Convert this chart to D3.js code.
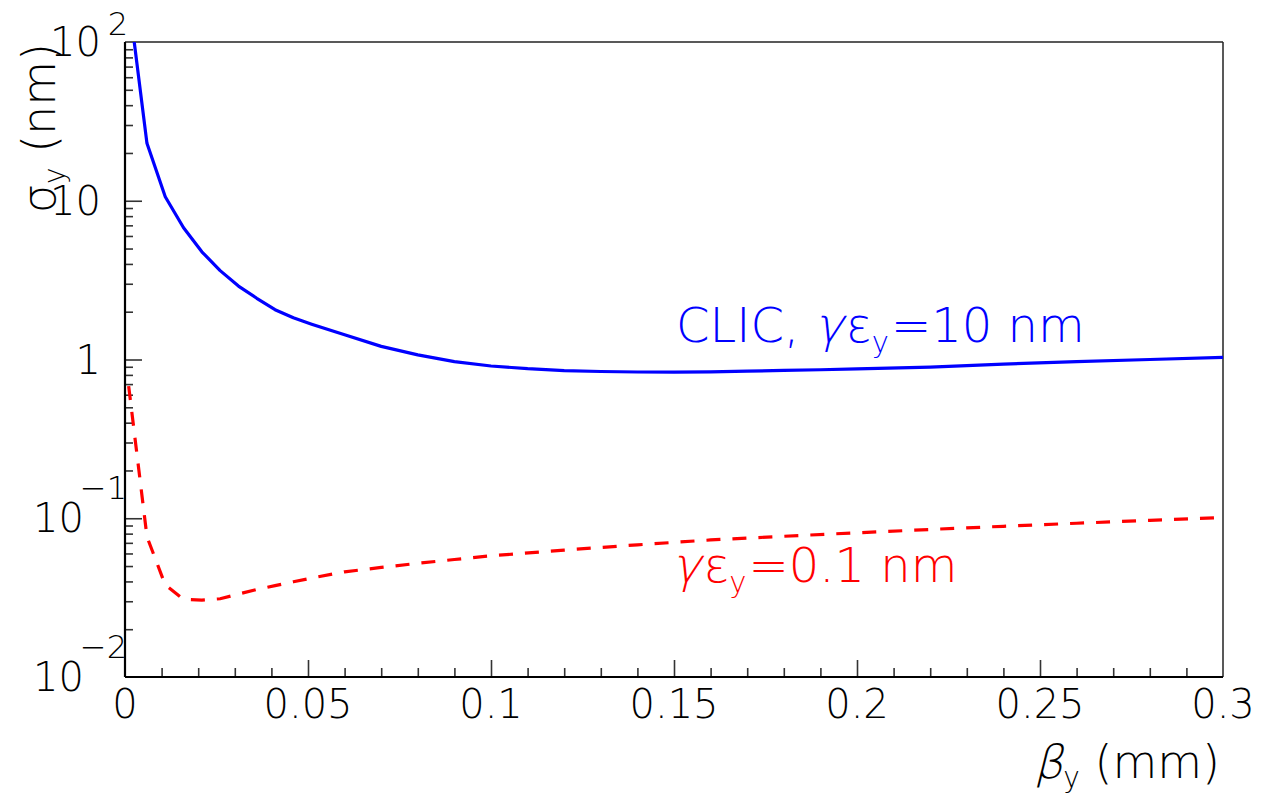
<!DOCTYPE html>
<html><head><meta charset="utf-8">
<script src="https://cdn.jsdelivr.net/npm/d3@7"></script>
<style>
body{margin:0;background:#fff}
svg{display:block}
text{font-family:"DejaVu Sans","Liberation Sans",sans-serif;font-weight:200}
</style>
</head><body>
<svg id="chart" width="1262" height="793"></svg>
<script>
// ---- data ----
const betaBlue  = [0.001,0.006,0.011,0.016,0.021,0.026,0.031,0.036,0.041,0.046,0.051,0.06,0.07,0.08,0.09,0.10,0.11,0.12,0.13,0.14,0.15,0.16,0.17,0.18,0.19,0.20,0.22,0.24,0.26,0.28,0.30];
const sigmaBlue = [190,23,10.6,6.76,4.77,3.63,2.90,2.43,2.06,1.83,1.67,1.43,1.21,1.07,0.97,0.91,0.875,0.852,0.840,0.834,0.833,0.836,0.845,0.853,0.862,0.873,0.895,0.935,0.97,1.00,1.03];
const betaRed   = [0.001,0.006,0.011,0.016,0.021,0.026,0.031,0.036,0.041,0.046,0.051,0.06,0.07,0.08,0.09,0.10,0.12,0.14,0.16,0.18,0.20,0.22,0.24,0.26,0.28,0.30];
const sigmaRed  = [0.68,0.0765,0.038,0.0308,0.0305,0.0311,0.0333,0.0356,0.0376,0.0398,0.042,0.046,0.049,0.052,0.055,0.058,0.063,0.068,0.073,0.077,0.081,0.085,0.089,0.093,0.097,0.101];

const xTicks      = [0,0.05,0.1,0.15,0.2,0.25,0.3];
const xTickLabels = ["0","0.05","0.1","0.15","0.2","0.25","0.3"];
const yTicks      = [0.01,0.1,1,10,100];
const yTickBase   = ["10","10","1","10","10"];
const yTickExp    = ["\u22122","\u22121","","","2"];

const blueLabel = ["CLIC, ","\u03b3","\u03b5","y","=10 nm"];
const redLabel  = ["","\u03b3","\u03b5","y","=0.1 nm"];

// ---- layout ----
const L=125, R=1223, T=42, B=677;
const svg=d3.select("#chart");
const x=d3.scaleLinear().domain([0,0.3]).range([L,R]);
const y=d3.scaleLog().domain([0.01,100]).range([B,T]);

svg.append("defs").append("clipPath").attr("id","clip")
  .append("rect").attr("x",L).attr("y",T).attr("width",R-L).attr("height",B-T);

const xMinor=d3.range(0,0.3001,0.01).filter(v=>Math.abs(v/0.05-Math.round(v/0.05))>1e-6);
const yMinor=[];
[0.01,0.1,1,10].forEach(d=>{for(let k=2;k<=9;k++) yMinor.push(d*k);});

function styleAxis(g){
  g.select(".domain").remove();
  g.selectAll(".tick line").attr("stroke","#333").attr("stroke-width",1.6);
  g.selectAll(".tick text").remove();
}
svg.append("g").attr("transform",`translate(0,${B})`)
  .call(d3.axisBottom(x).tickValues(xMinor).tickSize(-9).tickFormat("")).call(styleAxis);
svg.append("g").attr("transform",`translate(0,${B})`)
  .call(d3.axisBottom(x).tickValues(xTicks.slice(1,-1)).tickSize(-17).tickFormat("")).call(styleAxis);
svg.append("g").attr("transform",`translate(${L},0)`)
  .call(d3.axisLeft(y).tickValues(yMinor).tickSize(-8).tickFormat("")).call(styleAxis);
svg.append("g").attr("transform",`translate(${L},0)`)
  .call(d3.axisLeft(y).tickValues(yTicks.slice(1,-1)).tickSize(-17).tickFormat("")).call(styleAxis);

// frame
svg.append("line").attr("x1",L).attr("x2",R).attr("y1",T).attr("y2",T).attr("stroke","#222").attr("stroke-width",1.5);
svg.append("line").attr("x1",R).attr("x2",R).attr("y1",T).attr("y2",B).attr("stroke","#222").attr("stroke-width",1.5);
svg.append("line").attr("x1",L).attr("x2",R).attr("y1",B).attr("y2",B).attr("stroke","#000").attr("stroke-width",2.2);
svg.append("line").attr("x1",L).attr("x2",L).attr("y1",T).attr("y2",B).attr("stroke","#000").attr("stroke-width",2.2);

// x tick labels
svg.append("g").selectAll("text").data(xTicks).join("text")
  .attr("x",d=>x(d)).attr("y",B+41).attr("text-anchor","middle")
  .attr("font-size",40).attr("fill","#000").text((d,i)=>xTickLabels[i]);

// y tick labels
yTicks.forEach((v,i)=>{
  const ty=y(v), exp=yTickExp[i];
  if(!exp){
    svg.append("text").attr("x",101).attr("y",ty+14).attr("text-anchor","end")
      .attr("font-size",40).attr("fill","#000").text(yTickBase[i]);
  } else {
    const neg=exp.startsWith("\u2212");
    svg.append("text").attr("x",neg?84:101).attr("y",ty+14).attr("text-anchor","end")
      .attr("font-size",40).attr("fill","#000").text(yTickBase[i]);
    svg.append("text").attr("x",neg?127:128).attr("y",neg?ty-19:ty-7).attr("text-anchor","end")
      .attr("font-size",32).attr("fill","#000").text(exp);
  }
});

// slanted glyph overlay: hide the tspan glyph and draw a skewed copy at its position
function slant(textSel, charIndex, glyph, extraTransform){
  const node=textSel.node();
  const p=node.getStartPositionOfChar(charIndex);
  const g=d3.select(node.parentNode).append("text")
    .attr("transform",(extraTransform||"")+` translate(${p.x},${p.y}) skewX(-14)`)
    .attr("font-size",textSel.attr("font-size")).attr("fill",textSel.attr("fill")).text(glyph);
  return g;
}

// axis titles
const xt=svg.append("text").attr("x",1220).attr("y",778).attr("text-anchor","end")
  .attr("font-size",46).attr("fill","#000");
xt.append("tspan").attr("fill-opacity",0).text("\u03b2");
xt.append("tspan").attr("font-size",28).attr("dy",9).text("y");
xt.append("tspan").attr("dy",-9).text(" (mm)");
slant(xt,0,"\u03b2");

const yt=svg.append("text").attr("transform","translate(55,43) rotate(-90)")
  .attr("text-anchor","end").attr("font-size",46).attr("fill","#000");
yt.append("tspan").text("\u03c3");
yt.append("tspan").attr("font-size",28).attr("dy",9).text("y");
yt.append("tspan").attr("dy",-9).text(" (nm)");

// curves
const line=d3.line().x(d=>x(d[0])).y(d=>y(d[1]));
const gPlot=svg.append("g").attr("clip-path","url(#clip)");
gPlot.append("path").datum(betaBlue.map((b,i)=>[b,sigmaBlue[i]]))
  .attr("d",line).attr("fill","none").attr("stroke","#0000ff").attr("stroke-width",3.2).attr("stroke-linejoin","round");
gPlot.append("path").datum(betaRed.map((b,i)=>[b,sigmaRed[i]]))
  .attr("d",line).attr("fill","none").attr("stroke","#ff0000").attr("stroke-width",3.2).attr("stroke-dasharray","14,12");

// curve labels
function label(parts,px,py,color){
  const t=svg.append("text").attr("x",px).attr("y",py).attr("font-size",48).attr("fill",color);
  if(parts[0]) t.append("tspan").text(parts[0]);
  t.append("tspan").attr("fill-opacity",0).text(parts[1]);
  t.append("tspan").attr("dx",3).text(parts[2]);
  t.append("tspan").attr("font-size",29).attr("dy",10).text(parts[3]);
  t.append("tspan").attr("dy",-10).attr("dx",2).text(parts[4]);
  slant(t,parts[0].length,parts[1]);
}
label(blueLabel,676,342,"#0000ff");
label(redLabel,672,582,"#ff0000");
</script>
</body></html>
